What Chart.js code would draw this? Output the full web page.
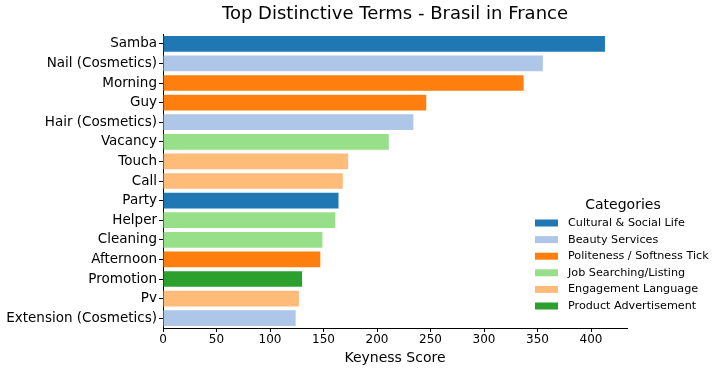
<!DOCTYPE html>
<html>
<head>
<meta charset="utf-8">
<script src="https://cdn.jsdelivr.net/npm/chart.js@4/dist/chart.umd.min.js"></script>
<style>
  html, body { margin: 0; padding: 0; background: #fff; }
</style>
</head>
<body>
<canvas id="chart" width="720" height="371"></canvas>
<script>
const terms = ['Samba', 'Nail (Cosmetics)', 'Morning', 'Guy', 'Hair (Cosmetics)', 'Vacancy', 'Touch', 'Call',
  'Party', 'Helper', 'Cleaning', 'Afternoon', 'Promotion', 'Pv', 'Extension (Cosmetics)']
const scores = [413, 355, 337, 246, 234, 211, 173, 168, 164, 161, 149, 147, 130, 127, 124]
const termCategory = [0, 1, 2, 2, 1, 3, 4, 4, 0, 3, 3, 2, 5, 4, 1]
const categories = ['Cultural & Social Life', 'Beauty Services', 'Politeness / Softness Tick',
  'Job Searching/Listing', 'Engagement Language', 'Product Advertisement']
const xTicks = [0, 50, 100, 150, 200, 250, 300, 350, 400]

const categoryColors = ['#1f77b4', '#aec7e8', '#ff7f0e', '#98df8a', '#ffbb78', '#2ca02c']
const font = 'DejaVu Sans'

// title + legend drawn by hand so they sit where matplotlib put them
const overlay = {
  id: 'overlay',
  afterDraw (chart) {
    const ctx = chart.ctx
    const area = chart.chartArea
    ctx.save()
    ctx.fillStyle = '#000'
    ctx.textBaseline = 'middle'
    ctx.textAlign = 'center'
    ctx.font = '18px ' + font
    ctx.fillText('Top Distinctive Terms - Brasil in France', (area.left + area.right) / 2, 14)

    ctx.font = '14px ' + font
    ctx.fillText('Categories', 623, 205)
    ctx.textAlign = 'left'
    ctx.font = '11.2px ' + font
    categories.forEach((name, i) => {
      const y = 223 + i * 16.6
      ctx.fillStyle = categoryColors[i]
      ctx.fillRect(535, y - 3.5, 23, 7)
      ctx.fillStyle = '#000'
      ctx.fillText(name, 568, y)
    })
    ctx.restore()
  }
}

new Chart(document.getElementById('chart'), {
  type: 'bar',
  data: {
    labels: terms,
    datasets: [{
      data: scores,
      backgroundColor: termCategory.map(c => categoryColors[c]),
      barPercentage: 0.8,
      categoryPercentage: 1.0
    }]
  },
  options: {
    indexAxis: 'y',
    responsive: false,
    devicePixelRatio: 1,
    animation: false,
    layout: { padding: { top: 34, right: 93, bottom: 0, left: 0 } },
    plugins: {
      legend: { display: false },
      tooltip: { enabled: false }
    },
    scales: {
      x: {
        type: 'linear',
        min: 0,
        max: 433.6,
        afterBuildTicks: (scale) => { scale.ticks = xTicks.map(v => ({ value: v })) },
        afterFit: (scale) => { scale.height = 43 },
        grid: { drawOnChartArea: false, tickLength: 4, color: '#000' },
        border: { color: '#000', width: 1 },
        ticks: { color: '#000', font: { family: font, size: 12 }, padding: 1, maxRotation: 0 },
        title: { display: true, text: 'Keyness Score', color: '#000', font: { family: font, size: 14 }, padding: { top: 2, bottom: 4 } }
      },
      y: {
        afterFit: (scale) => { scale.width = 163 },
        grid: { drawOnChartArea: false, offset: false, tickLength: 4, color: '#000' },
        border: { color: '#000', width: 1 },
        ticks: { color: '#000', font: { family: font, size: 13.5 }, padding: 2, autoSkip: false }
      }
    }
  },
  plugins: [overlay]
})
</script>
</body>
</html>
